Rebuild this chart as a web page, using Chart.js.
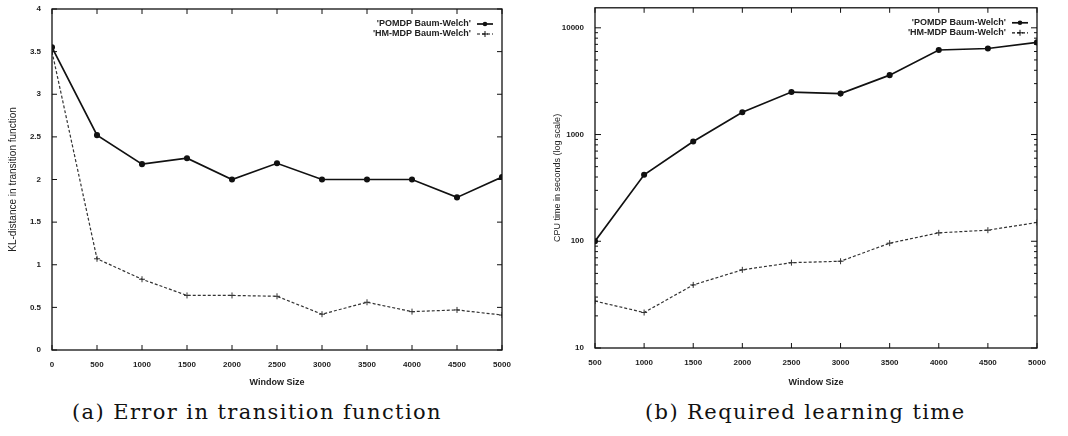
<!DOCTYPE html>
<html>
<head>
<title>Baum-Welch comparison</title>
<script src="https://cdn.jsdelivr.net/npm/chart.js"></script>
<style>
  body { margin: 0; background: #fff; width: 1068px; height: 436px; overflow: hidden; position: relative; }
  .plot { position: absolute; top: 0; }
  .caption { position: absolute; top: 399px; font-family: "DejaVu Serif", serif; font-size: 21px; letter-spacing: 1.4px; line-height: 26px; color: #111; white-space: nowrap; }
</style>
</head>
<body>
<div class="plot" style="left:0px;"><canvas id="errChart" width="530" height="392"></canvas></div>
<div class="plot" style="left:530px;"><canvas id="timeChart" width="538" height="392"></canvas></div>
<div class="caption" style="left:72px;">(a) Error in transition function</div>
<div class="caption" style="left:645px;">(b) Required learning time</div>

<script>
// datos
const windowErr = [0, 500, 1000, 1500, 2000, 2500, 3000, 3500, 4000, 4500, 5000];
const pomdpErr = [3.55, 2.52, 2.18, 2.25, 2.0, 2.19, 2.0, 2.0, 2.0, 1.79, 2.03];
const hmmdpErr = [3.5, 1.07, 0.83, 0.64, 0.64, 0.63, 0.42, 0.56, 0.45, 0.47, 0.41];

const windowTime = [500, 1000, 1500, 2000, 2500, 3000, 3500, 4000, 4500, 5000];
const pomdpTime = [100, 420, 860, 1620, 2500, 2420, 3600, 6200, 6400, 7300];
const hmmdpTime = [27.5, 21.5, 39, 54, 63, 65, 96, 120, 127, 150];

const seriesNames = ["'POMDP Baum-Welch'", "'HM-MDP Baum-Welch'"];

Chart.defaults.font.family = "'Liberation Sans', Arial, sans-serif";
Chart.defaults.color = '#222';

function pts(xs, ys) {
    return xs.map((x, i) => ({ x: x, y: ys[i] }));
}

// marco, ticks hacia adentro y leyenda estilo gnuplot
const gnuplotBox = {
    id: 'gnuplotBox',
    afterDraw(chart) {
        const ctx = chart.ctx;
        const a = chart.chartArea;
        const xs = chart.scales.x, ys = chart.scales.y;
        ctx.save();
        ctx.strokeStyle = '#111';
        ctx.lineWidth = 1.3;
        ctx.strokeRect(a.left, a.top, a.right - a.left, a.bottom - a.top);
        ctx.lineWidth = 1;
        ctx.beginPath();
        xs.ticks.forEach(t => {
            const px = xs.getPixelForValue(t.value);
            ctx.moveTo(px, a.bottom); ctx.lineTo(px, a.bottom - 5);
            ctx.moveTo(px, a.top); ctx.lineTo(px, a.top + 5);
        });
        if (ys.type === 'logarithmic') {
            for (let e = 1; e <= 4; e++) {
                for (let m = 1; m <= 9; m++) {
                    const v = m * Math.pow(10, e);
                    if (v > ys.max) continue;
                    const py = ys.getPixelForValue(v);
                    const len = m === 1 ? 6 : 3;
                    ctx.moveTo(a.left, py); ctx.lineTo(a.left + len, py);
                    ctx.moveTo(a.right, py); ctx.lineTo(a.right - len, py);
                }
            }
        } else {
            ys.ticks.forEach(t => {
                const py = ys.getPixelForValue(t.value);
                ctx.moveTo(a.left, py); ctx.lineTo(a.left + 5, py);
                ctx.moveTo(a.right, py); ctx.lineTo(a.right - 5, py);
            });
        }
        ctx.stroke();

        // leyenda
        ctx.font = "bold 9px 'Liberation Sans', Arial, sans-serif";
        ctx.fillStyle = '#222';
        ctx.textAlign = 'right';
        ctx.textBaseline = 'middle';
        chart.data.datasets.forEach((ds, i) => {
            const y = a.top + 15 + i * 10;
            ctx.fillText(ds.label, a.right - 31, y);
            ctx.strokeStyle = '#111';
            ctx.lineWidth = ds.borderWidth;
            ctx.setLineDash(ds.borderDash || []);
            ctx.beginPath();
            ctx.moveTo(a.right - 25, y); ctx.lineTo(a.right - 9, y);
            ctx.stroke();
            ctx.setLineDash([]);
            ctx.lineWidth = 1;
            const cx = a.right - 17;
            if (ds.pointStyle === 'circle') {
                ctx.fillStyle = '#111';
                ctx.beginPath(); ctx.arc(cx, y, 2.3, 0, Math.PI * 2); ctx.fill();
                ctx.fillStyle = '#222';
            } else {
                ctx.beginPath();
                ctx.moveTo(cx - 3, y); ctx.lineTo(cx + 3, y);
                ctx.moveTo(cx, y - 3); ctx.lineTo(cx, y + 3);
                ctx.stroke();
            }
        });
        ctx.restore();
    }
};

function makeDatasets(xs, a, b) {
    return [
        {
            label: seriesNames[0],
            data: pts(xs, a),
            borderColor: '#111',
            backgroundColor: '#111',
            borderWidth: 1.7,
            pointStyle: 'circle',
            pointRadius: 2.2,
            tension: 0
        },
        {
            label: seriesNames[1],
            data: pts(xs, b),
            borderColor: '#333',
            backgroundColor: '#333',
            borderWidth: 1.2,
            borderDash: [3, 2],
            pointStyle: 'cross',
            pointRadius: 3,
            pointBorderWidth: 1,
            tension: 0
        }
    ];
}

const tickFont = { size: 8, weight: 'bold' };
const titleFont = { size: 9, weight: 'bold' };
const plainLabel = v => String(v);

new Chart(document.getElementById('errChart'), {
    type: 'line',
    data: { datasets: makeDatasets(windowErr, pomdpErr, hmmdpErr) },
    plugins: [gnuplotBox],
    options: {
        responsive: false,
        animation: false,
        devicePixelRatio: 1,
        layout: { padding: { left: 7, top: 9, right: 28, bottom: 0 } },
        plugins: { legend: { display: false }, tooltip: { enabled: false } },
        scales: {
            x: {
                type: 'linear', min: 0, max: 5000,
                ticks: { stepSize: 500, font: tickFont, padding: 2, maxRotation: 0, callback: plainLabel },
                grid: { display: false },
                border: { display: false },
                title: { display: true, text: 'Window Size', font: titleFont, padding: { top: 4 } },
                afterFit: s => { s.height = 42; }
            },
            y: {
                min: 0, max: 4,
                ticks: { stepSize: 0.5, font: tickFont, padding: 3, callback: plainLabel },
                grid: { display: false },
                border: { display: false },
                title: { display: true, text: 'KL-distance in transition function', font: { size: 10 }, padding: 0 },
                afterFit: s => { s.width = 45; }
            }
        }
    }
});

new Chart(document.getElementById('timeChart'), {
    type: 'line',
    data: { datasets: makeDatasets(windowTime, pomdpTime, hmmdpTime) },
    plugins: [gnuplotBox],
    options: {
        responsive: false,
        animation: false,
        devicePixelRatio: 1,
        layout: { padding: { left: 22, top: 7, right: 31, bottom: 0 } },
        plugins: { legend: { display: false }, tooltip: { enabled: false } },
        scales: {
            x: {
                type: 'linear', min: 500, max: 5000,
                ticks: { stepSize: 500, font: tickFont, padding: 2, maxRotation: 0, callback: plainLabel },
                grid: { display: false },
                border: { display: false },
                title: { display: true, text: 'Window Size', font: titleFont, padding: { top: 4 } },
                afterFit: s => { s.height = 44; }
            },
            y: {
                type: 'logarithmic', min: 10, max: 15400,
                ticks: {
                    font: tickFont, padding: 3, autoSkip: false,
                    callback: v => {
                        const l = Math.log10(v);
                        return Math.abs(l - Math.round(l)) < 1e-9 ? String(v) : '';
                    }
                },
                grid: { display: false },
                border: { display: false },
                title: { display: true, text: 'CPU time in seconds (log scale)', font: { size: 9 }, padding: 0 },
                afterFit: s => { s.width = 43; }
            }
        }
    }
});
</script>
</body>
</html>
